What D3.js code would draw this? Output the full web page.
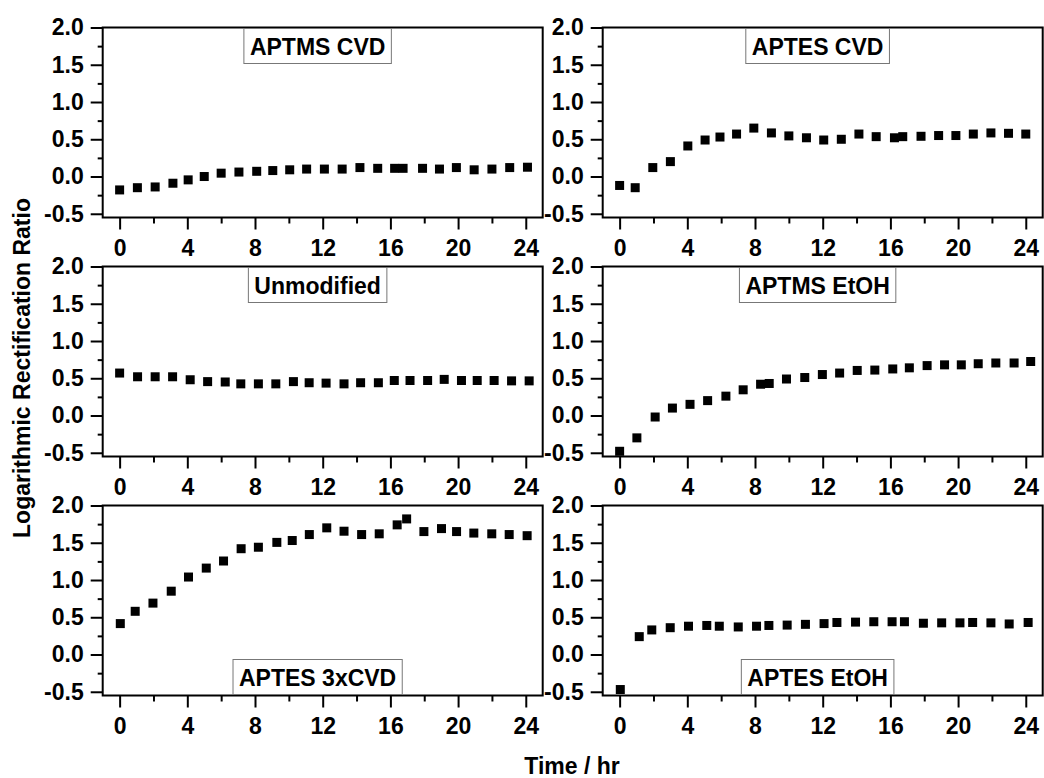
<!DOCTYPE html>
<html>
<head>
<meta charset="utf-8">
<script src="https://cdn.jsdelivr.net/npm/d3@7"></script>
<style>
  body { margin: 0; background: #fff; }
  svg { font-family: Arial, "Liberation Sans", sans-serif; font-weight: bold; }
  .tick text { font-size: 23px; fill: #000; }
  .tick line { stroke: #000; stroke-width: 2; }
  .domain { display: none; }
</style>
</head>
<body>
<svg id="chart" width="1044" height="778"></svg>
<script>
// values (time in hr, log rectification ratio)
const aptmsCvdT = [0, 1.05, 2.1, 3.15, 4.05, 5, 6, 7.05, 8.1, 9.05, 10.05, 11.05, 12.1, 13.15, 14.2, 15.25, 16.25, 16.75, 17.9, 18.9, 19.9, 20.95, 22, 23.05, 24.1];
const aptmsCvdV = [-0.18, -0.15, -0.14, -0.09, -0.045, 0.0, 0.045, 0.06, 0.07, 0.08, 0.09, 0.10, 0.10, 0.10, 0.12, 0.11, 0.11, 0.11, 0.11, 0.10, 0.12, 0.09, 0.10, 0.12, 0.125];

const aptesCvdT = [0, 0.92, 1.96, 3, 4.03, 5.05, 5.93, 6.91, 7.93, 8.97, 10, 11.04, 12.06, 13.1, 14.14, 15.16, 16.24, 16.73, 17.81, 18.85, 19.87, 20.9, 21.94, 22.98, 24];
const aptesCvdV = [-0.12, -0.15, 0.12, 0.20, 0.41, 0.49, 0.53, 0.57, 0.65, 0.585, 0.545, 0.52, 0.49, 0.50, 0.57, 0.535, 0.52, 0.535, 0.54, 0.55, 0.55, 0.57, 0.585, 0.58, 0.57];

const unmodT = [0, 1.06, 2.1, 3.13, 4.17, 5.2, 6.24, 7.16, 8.2, 9.23, 10.27, 11.2, 12.2, 13.26, 14.24, 15.29, 16.23, 17.16, 18.2, 19.18, 20.2, 21.13, 22.13, 23.16, 24.2];
const unmodV = [0.57, 0.52, 0.52, 0.52, 0.48, 0.455, 0.45, 0.425, 0.425, 0.425, 0.455, 0.44, 0.435, 0.425, 0.44, 0.44, 0.47, 0.47, 0.47, 0.485, 0.47, 0.47, 0.47, 0.465, 0.465];

const aptmsEtohT = [0, 1.02, 2.1, 3.12, 4.16, 5.2, 6.28, 7.3, 8.33, 8.84, 9.86, 10.94, 11.98, 13, 14.04, 15.08, 16.14, 17.12, 18.17, 19.2, 20.19, 21.19, 22.23, 23.31, 24.29];
const aptmsEtohV = [-0.48, -0.30, -0.02, 0.10, 0.15, 0.20, 0.26, 0.345, 0.42, 0.43, 0.49, 0.51, 0.55, 0.57, 0.605, 0.61, 0.625, 0.64, 0.67, 0.68, 0.68, 0.695, 0.705, 0.705, 0.725];

const aptes3xT = [0.04, 0.92, 1.97, 3.05, 4.07, 5.12, 6.14, 7.18, 8.2, 9.29, 10.2, 11.21, 12.24, 13.26, 14.3, 15.34, 16.4, 16.96, 17.98, 19.02, 19.91, 20.93, 21.99, 23.02, 24.08];
const aptes3xV = [0.415, 0.58, 0.69, 0.85, 1.04, 1.16, 1.255, 1.42, 1.44, 1.505, 1.53, 1.61, 1.70, 1.655, 1.61, 1.62, 1.74, 1.82, 1.65, 1.69, 1.65, 1.63, 1.62, 1.61, 1.595];

const aptesEtohT = [0.04, 1.16, 1.9, 2.99, 4.07, 5.15, 5.89, 7.01, 8.09, 8.82, 9.9, 10.98, 12.08, 12.84, 13.94, 15.02, 16.1, 16.83, 17.95, 19.03, 20.11, 20.86, 21.94, 23.02, 24.14];
const aptesEtohV = [-0.47, 0.24, 0.33, 0.36, 0.38, 0.39, 0.38, 0.37, 0.38, 0.39, 0.395, 0.405, 0.415, 0.43, 0.435, 0.44, 0.44, 0.44, 0.42, 0.425, 0.425, 0.43, 0.425, 0.41, 0.43];

const panelNames = ["APTMS CVD", "APTES CVD", "Unmodified", "APTMS EtOH", "APTES 3xCVD", "APTES EtOH"];
const panelTimes = [aptmsCvdT, aptesCvdT, unmodT, aptmsEtohT, aptes3xT, aptesEtohT];
const panelVals = [aptmsCvdV, aptesCvdV, unmodV, aptmsEtohV, aptes3xV, aptesEtohV];

const xTicks = [0, 4, 8, 12, 16, 20, 24];
const xMinor = [2, 6, 10, 14, 18, 22];
const yTicks = [-0.5, 0, 0.5, 1, 1.5, 2];
const yMinor = [-0.25, 0.25, 0.75, 1.25, 1.75];

const svg = d3.select("#chart");

const w = 440, h = 190;
const colX = [102.7, 602.7];
const rowY = [27.5, 266.5, 505.5];
const markSize = 9;

const x = d3.scaleLinear().domain([-1, 25]).range([0, w]);
const y = d3.scaleLinear().domain([-0.55, 2]).range([h, 0]);

panelNames.forEach((name, i) => {
  const g = svg.append("g")
    .attr("transform", "translate(" + colX[i % 2] + "," + rowY[Math.floor(i / 2)] + ")");

  // minor ticks first, then the labelled ones
  g.append("g").attr("transform", "translate(0," + h + ")")
    .call(d3.axisBottom(x).tickValues(xMinor).tickSize(6).tickFormat(""));
  g.append("g").attr("transform", "translate(0," + h + ")")
    .call(d3.axisBottom(x).tickValues(xTicks).tickSize(12).tickPadding(10));
  g.append("g")
    .call(d3.axisLeft(y).tickValues(yMinor).tickSize(5).tickFormat(""));
  g.append("g")
    .call(d3.axisLeft(y).tickValues(yTicks).tickSize(12).tickPadding(7).tickFormat(d => d.toFixed(1)));

  // frame
  g.append("rect")
    .attr("width", w)
    .attr("height", h)
    .attr("fill", "none")
    .attr("stroke", "#000")
    .attr("stroke-width", 2);

  // square markers
  g.selectAll(".pt")
    .data(d3.zip(panelTimes[i], panelVals[i]))
    .join("rect")
    .attr("class", "pt")
    .attr("x", d => x(d[0]) - markSize / 2)
    .attr("y", d => y(d[1]) - markSize / 2)
    .attr("width", markSize)
    .attr("height", markSize)
    .attr("fill", "#000");

  // label in a box, top for the first two rows, bottom for the last
  const box = g.append("rect")
    .attr("fill", "#fff")
    .attr("stroke", "#777")
    .attr("stroke-width", 1);
  const boxH = 35;
  const boxTop = i < 4 ? 1 : h - 1 - boxH;
  const label = g.append("text")
    .attr("x", x(11.7))
    .attr("y", boxTop + boxH / 2 + 8.5)
    .attr("text-anchor", "middle")
    .style("font-size", "23px")
    .text(name);
  const bb = label.node().getBBox();
  box.attr("x", bb.x - 6)
    .attr("y", boxTop)
    .attr("width", bb.width + 12)
    .attr("height", boxH);
});

// y axis title
svg.append("text")
  .attr("transform", "translate(30,368) rotate(-90)")
  .attr("text-anchor", "middle")
  .style("font-size", "23px")
  .text("Logarithmic Rectification Ratio");

// x axis title
svg.append("text")
  .attr("x", 572)
  .attr("y", 774)
  .attr("text-anchor", "middle")
  .style("font-size", "23px")
  .text("Time / hr");
</script>
</body>
</html>
